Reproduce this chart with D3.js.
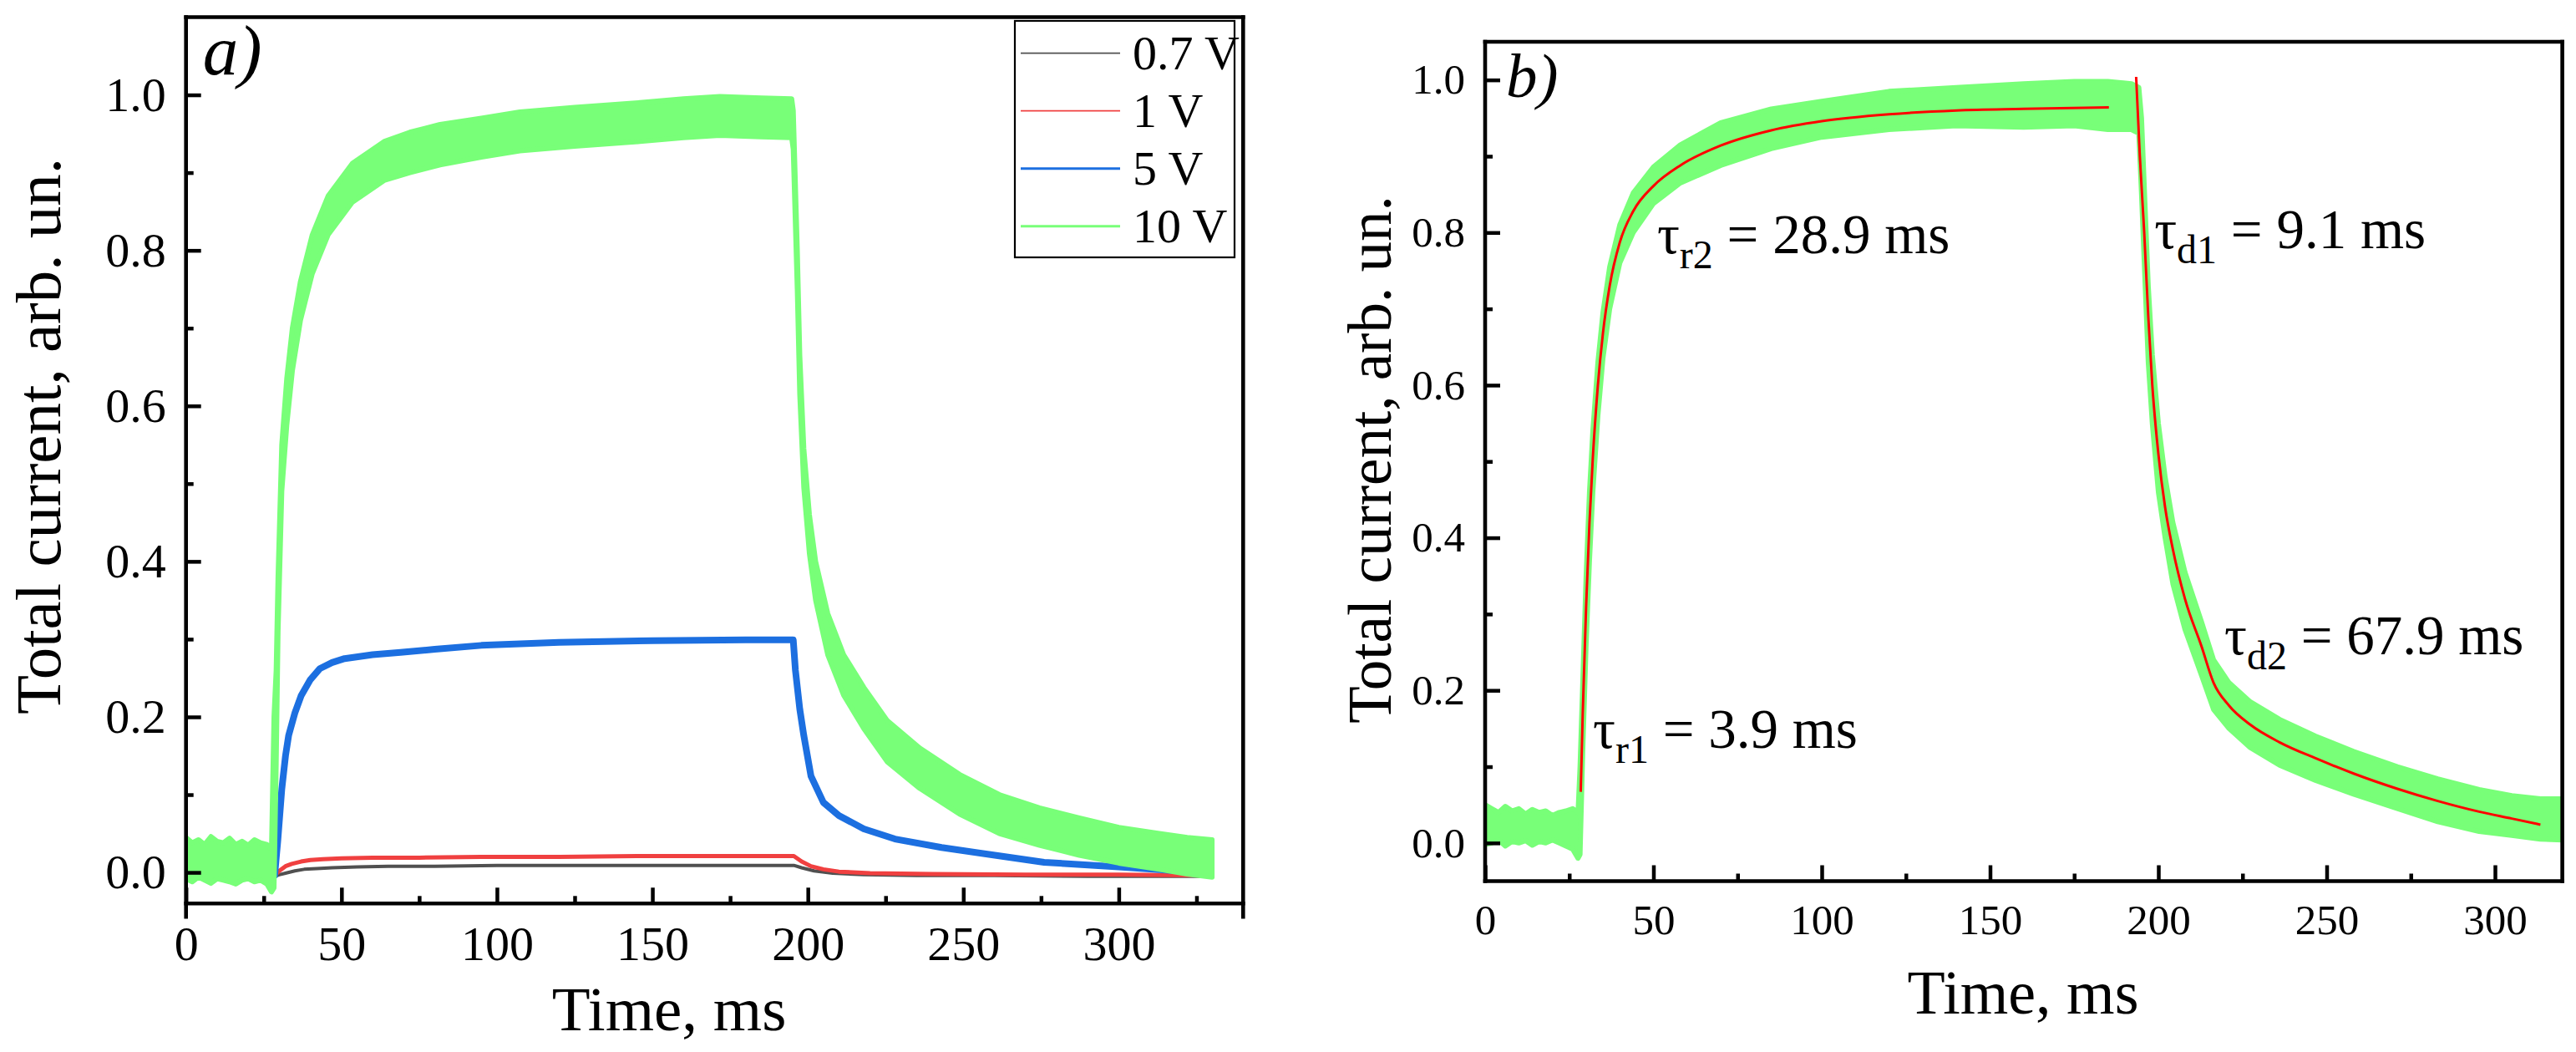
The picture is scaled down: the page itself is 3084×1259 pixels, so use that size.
<!DOCTYPE html>
<meta charset="utf-8">
<style>
  body { margin: 0; background: #fff; }
  svg { display: block; }
</style>
<body>
<script src="https://d3js.org/d3.v7.min.js"></script>
<script>

const W = 3084, H = 1259;
const SERIF = '"Liberation Serif", "Times New Roman", Times, serif';

// ---------- panel a) : photocurrent at four bias voltages (time ms, current arb. un.)
const legendLabels = ["0.7 V", "1 V", "5 V", "10 V"];
const seriesColors = ["#505050", "#f04040", "#1c6fe0", "#78ff78"];

const t07 = [0, 4, 8, 12, 16, 20, 24, 28.5, 30, 32, 35, 38, 42, 47, 55, 65, 80, 100, 125, 150, 175, 195.5, 198, 202, 208, 218, 235, 260, 290, 330];
const i07 = [-0.005, -0.004, -0.006, -0.005, -0.004, -0.006, -0.005, -0.005, -0.003, -0.001, 0.002, 0.004, 0.005, 0.006, 0.007, 0.008, 0.008, 0.009, 0.009, 0.009, 0.009, 0.009, 0.006, 0.002, -0.001, -0.003, -0.004, -0.004, -0.005, -0.005];

const t1 = [0, 5, 10, 15, 20, 25, 28.5, 30, 32, 34, 37, 40, 44, 50, 60, 75, 95, 120, 145, 170, 190, 195.5, 198, 201, 205, 210, 220, 240, 270, 300, 330];
const i1 = [-0.004, -0.005, -0.004, -0.005, -0.004, -0.005, -0.004, 0.002, 0.008, 0.011, 0.014, 0.016, 0.017, 0.018, 0.019, 0.019, 0.02, 0.02, 0.021, 0.021, 0.021, 0.021, 0.014, 0.008, 0.004, 0.001, -0.001, -0.002, -0.003, -0.003, -0.004];

const t5 = [0, 5, 10, 15, 20, 25, 28.5, 29.5, 30.8, 32, 33, 35, 37, 40, 43, 47, 51, 60, 69, 80, 95, 120, 150, 180, 195.3, 196, 197.4, 198.7, 201, 205, 210, 218, 228, 243, 262, 276, 300, 330];
const i5 = [-0.004, -0.005, -0.004, -0.005, -0.004, -0.005, -0.004, 0.04, 0.107, 0.15, 0.176, 0.205, 0.227, 0.248, 0.262, 0.27, 0.275, 0.28, 0.283, 0.287, 0.292, 0.296, 0.298, 0.299, 0.299, 0.26, 0.21, 0.176, 0.124, 0.09, 0.073, 0.056, 0.043, 0.032, 0.021, 0.013, 0.007, -0.001];

// 10 V trace is very noisy: kept as the upper / lower edge of the band
const t10 = [0, 2, 4, 6, 8, 10, 12, 14, 16, 18, 20, 22, 24, 26, 27.5, 28.3, 29, 29.6, 30.8, 32.4, 34.2, 36.8, 40.6, 45.7, 53.5, 63.7, 72, 81.7, 95, 107.4, 125, 146, 160, 171.7, 185, 194.8, 195.3, 196.6, 197.4, 198.7, 200.5, 202.5, 206.4, 211.5, 218, 225.6, 236, 248.8, 261.6, 274.5, 287.3, 300, 313, 322, 330];
const hi10 = [0.045, 0.038, 0.042, 0.036, 0.046, 0.04, 0.038, 0.044, 0.036, 0.04, 0.035, 0.042, 0.038, 0.036, 0.03, 0.2, 0.26, 0.38, 0.55, 0.635, 0.7, 0.76, 0.82, 0.87, 0.912, 0.94, 0.952, 0.962, 0.97, 0.978, 0.984, 0.99, 0.995, 0.998, 0.996, 0.995, 0.98, 0.8, 0.665, 0.545, 0.46, 0.4, 0.333, 0.28, 0.238, 0.195, 0.16, 0.126, 0.1, 0.083, 0.07, 0.058, 0.05, 0.045, 0.042];
const lo10 = [-0.008, -0.012, -0.006, -0.01, -0.014, -0.008, -0.01, -0.012, -0.015, -0.01, -0.008, -0.012, -0.01, -0.015, -0.025, -0.02, 0.14, 0.31, 0.49, 0.575, 0.645, 0.71, 0.77, 0.82, 0.862, 0.89, 0.9, 0.91, 0.92, 0.928, 0.934, 0.94, 0.945, 0.948, 0.946, 0.945, 0.93, 0.75, 0.615, 0.495, 0.41, 0.35, 0.28, 0.228, 0.185, 0.142, 0.108, 0.075, 0.05, 0.035, 0.022, 0.012, 0.004, -0.002, -0.006];

// ---------- panel b) : 10 V trace with the bi-exponential fits
const tB = [0, 2, 4, 6, 8, 10, 12, 14, 16, 18, 20, 22, 24, 26, 27.6, 28.2, 29, 30, 31, 32, 33.5, 35, 37, 40, 44, 50, 58, 70, 85, 100, 120, 140, 160, 175, 185, 192, 194.2, 195, 196, 197, 198.2, 200, 202, 204.3, 207.9, 212.8, 216.4, 221, 227.3, 236, 246.7, 258, 271, 283, 295.3, 305, 313.5, 320];
const hiB = [0.05, 0.045, 0.04, 0.048, 0.042, 0.045, 0.038, 0.044, 0.04, 0.042, 0.036, 0.04, 0.042, 0.045, 0.04, 0.1, 0.21, 0.35, 0.46, 0.54, 0.63, 0.695, 0.755, 0.81, 0.852, 0.886, 0.915, 0.944, 0.962, 0.972, 0.985, 0.99, 0.995, 0.998, 0.998, 0.995, 0.99, 0.95, 0.84, 0.73, 0.64, 0.55, 0.48, 0.42, 0.355, 0.29, 0.24, 0.21, 0.185, 0.162, 0.14, 0.12, 0.1, 0.084, 0.07, 0.062, 0.058, 0.058];
const loB = [-0.002, 0.0, 0.004, -0.004, 0.002, 0.0, 0.003, -0.003, 0.002, 0.0, 0.004, 0.0, -0.004, -0.008, -0.02, -0.015, 0.12, 0.26, 0.37, 0.46, 0.56, 0.635, 0.7, 0.76, 0.8, 0.838, 0.865, 0.888, 0.91, 0.925, 0.935, 0.94, 0.938, 0.94, 0.935, 0.935, 0.93, 0.85, 0.74, 0.63, 0.55, 0.46, 0.4, 0.34, 0.28, 0.22, 0.175, 0.15, 0.125, 0.102, 0.082, 0.064, 0.045, 0.028, 0.015, 0.01, 0.005, 0.004];

const tRise = [28.4, 29, 30, 31, 32, 33.5, 35, 37, 40, 44, 50, 58, 70, 85, 100, 120, 140, 160, 185.3];
const iRise = [0.067, 0.17, 0.31, 0.42, 0.505, 0.6, 0.668, 0.73, 0.787, 0.828, 0.861, 0.888, 0.914, 0.934, 0.946, 0.955, 0.96, 0.962, 0.964];
const tDecay = [193.4, 194.5, 195.8, 197, 198.2, 200, 202, 204.3, 207.9, 212.8, 216.4, 221, 227.3, 236, 246.7, 258, 271, 283, 295.3, 305, 313.5];
const iDecay = [1.004, 0.9, 0.8, 0.69, 0.6, 0.51, 0.44, 0.385, 0.32, 0.258, 0.21, 0.18, 0.155, 0.132, 0.111, 0.091, 0.071, 0.055, 0.041, 0.032, 0.024];

// fit constants and where the labels sit (data coords)
const tauSubs = ["r1", "r2", "d1", "d2"];
const tauValues = ["3.9 ms", "28.9 ms", "9.1 ms", "67.9 ms"];
const tauAt = [[32.0, 0.125], [51.1, 0.773], [198.8, 0.78], [219.6, 0.247]];

const xMajor = [0, 50, 100, 150, 200, 250, 300];
const yMajor = [0, 0.2, 0.4, 0.6, 0.8, 1.0];
const yMinor = [0.1, 0.3, 0.5, 0.7, 0.9];

let svg = d3.select("body").append("svg")
    .attr("width", W)
    .attr("height", H)
    .style("font-family", SERIF);

const pick = (ts, a, b) => ts.map((t, k) => ({t: t, lo: a[k], hi: b ? b[k] : a[k]}));

function makePanel(p) {
  const x = d3.scaleLinear().domain(p.xDomain).range([p.left, p.right]);
  const y = d3.scaleLinear().domain(p.yDomain).range([p.bottom, p.top]);
  const g = svg.append("g");

  g.append("clipPath").attr("id", p.id)
    .append("rect")
      .attr("x", p.left).attr("y", p.top)
      .attr("width", p.right - p.left).attr("height", p.bottom - p.top);

  const plot = g.append("g").attr("clip-path", `url(#${p.id})`);

  // ticks point into the frame
  const xMinor = xMajor.map(d => d + 25).filter(d => d < p.xDomain[1]);
  g.append("g")
      .attr("transform", `translate(0,${p.bottom})`)
      .call(d3.axisBottom(x).tickValues(xMajor).tickSize(-19).tickPadding(p.pad).tickFormat(d3.format("d")));
  g.append("g")
      .attr("transform", `translate(0,${p.bottom})`)
      .call(d3.axisBottom(x).tickValues(xMinor).tickSize(-9).tickFormat(""));

  g.append("g")
      .attr("transform", `translate(${p.left},0)`)
      .call(d3.axisLeft(y).tickValues(yMajor).tickSize(-18).tickPadding(24).tickFormat(d3.format(".1f")));
  g.append("g")
      .attr("transform", `translate(${p.left},0)`)
      .call(d3.axisLeft(y).tickValues(yMinor).tickSize(-9).tickFormat(""));

  g.selectAll(".domain").remove();
  g.selectAll(".tick line").attr("stroke", "#000").attr("stroke-width", 4.5);
  g.selectAll(".tick text").attr("fill", "#000").style("font-size", p.tickFont + "px");

  return {g, plot, x, y};
}

function drawFrame(g, p, drop) {
  const fr = g.append("g").attr("stroke", "#000").attr("stroke-width", 4.6).attr("stroke-linecap", "square");
  fr.append("line").attr("x1", p.left).attr("x2", p.right).attr("y1", p.top).attr("y2", p.top);
  fr.append("line").attr("x1", p.left).attr("x2", p.right).attr("y1", p.bottom).attr("y2", p.bottom);
  fr.append("line").attr("x1", p.left).attr("x2", p.left).attr("y1", p.top).attr("y2", p.bottom + drop);
  fr.append("line").attr("x1", p.right).attr("x2", p.right).attr("y1", p.top).attr("y2", p.bottom + drop);
}

function titles(g, xt, yt) {
  g.append("text")
      .attr("x", xt[0]).attr("y", xt[1])
      .attr("text-anchor", "middle")
      .style("font-size", xt[2] + "px")
      .text("Time, ms");
  g.append("text")
      .attr("transform", `translate(${yt[0]},${yt[1]}) rotate(-90)`)
      .attr("text-anchor", "middle")
      .style("font-size", yt[2] + "px")
      .text("Total current, arb. un.");
}

// ================= panel a)
const pa = {id: "clipA", left: 222.7, right: 1488.3, top: 20.5, bottom: 1081.3,
            xDomain: [0, 340], yDomain: [-0.04, 1.1], pad: 27, tickFont: 58};
const A = makePanel(pa);

const lineA = d3.line().x(d => A.x(d.t)).y(d => A.y(d.lo));
const thin = [[t07, i07, 4], [t1, i1, 5], [t5, i5, 8]];
thin.forEach((s, k) => {
  A.plot.append("path")
      .datum(pick(s[0], s[1]))
      .attr("d", lineA)
      .attr("fill", "none")
      .attr("stroke", seriesColors[k])
      .attr("stroke-width", s[2])
      .attr("stroke-linejoin", "round");
});

const bandA = d3.area().x(d => A.x(d.t)).y0(d => A.y(d.lo)).y1(d => A.y(d.hi));
A.plot.append("path")
    .datum(pick(t10, lo10, hi10))
    .attr("d", bandA)
    .attr("fill", seriesColors[3])
    .attr("stroke", seriesColors[3])
    .attr("stroke-width", 6)
    .attr("stroke-linejoin", "round");

drawFrame(A.g, pa, 16);
titles(A.g, [801, 1233, 75], [72, 522, 77]);

A.g.append("text")
    .attr("x", 242.7).attr("y", 89)
    .style("font-size", "85px")
    .style("font-style", "italic")
    .text("a)");

// legend
const lg = A.g.append("g");
lg.append("rect")
    .attr("x", 1215).attr("y", 25)
    .attr("width", 263).attr("height", 283)
    .attr("fill", "#fff")
    .attr("stroke", "#000")
    .attr("stroke-width", 2.2);
const lgWidth = [1.8, 1.8, 3, 3];
legendLabels.forEach((name, k) => {
  const yy = 63.7 + k * 69;
  lg.append("line")
      .attr("x1", 1222).attr("x2", 1341)
      .attr("y1", yy).attr("y2", yy)
      .attr("stroke", seriesColors[k])
      .attr("stroke-width", lgWidth[k]);
  lg.append("text")
      .attr("x", 1356).attr("y", yy + 19.5)
      .style("font-size", "58px")
      .text(name);
});

// ================= panel b)
const pb = {id: "clipB", left: 1778, right: 3067.6, top: 50, bottom: 1054.5,
            xDomain: [0, 320], yDomain: [-0.05, 1.05], pad: 27.5, tickFont: 51};
const B = makePanel(pb);

const bandB = d3.area().x(d => B.x(d.t)).y0(d => B.y(d.lo)).y1(d => B.y(d.hi));
B.plot.append("path")
    .datum(pick(tB, loB, hiB))
    .attr("d", bandB)
    .attr("fill", seriesColors[3])
    .attr("stroke", seriesColors[3])
    .attr("stroke-width", 6)
    .attr("stroke-linejoin", "round");

const lineB = d3.line().x(d => B.x(d.t)).y(d => B.y(d.lo)).curve(d3.curveMonotoneX);
[[tRise, iRise], [tDecay, iDecay]].forEach(s => {
  B.plot.append("path")
      .datum(pick(s[0], s[1]))
      .attr("d", lineB)
      .attr("fill", "none")
      .attr("stroke", "#ff0000")
      .attr("stroke-width", 3);
});

drawFrame(B.g, pb, 0);
titles(B.g, [2422, 1213, 74], [1665, 550, 73]);

B.g.append("text")
    .attr("x", 1803).attr("y", 116)
    .style("font-size", "75px")
    .style("font-style", "italic")
    .text("b)");

// time constants
tauSubs.forEach((sub, k) => {
  const lab = B.g.append("text")
      .attr("x", B.x(tauAt[k][0]))
      .attr("y", B.y(tauAt[k][1]))
      .style("font-size", "67px");
  lab.append("tspan").text("τ");
  lab.append("tspan").style("font-size", "48px").attr("dy", 18).text(sub);
  lab.append("tspan").attr("dy", -18).text(" = " + tauValues[k]);
});

svg.selectAll("text").style("font-family", SERIF);

</script>
